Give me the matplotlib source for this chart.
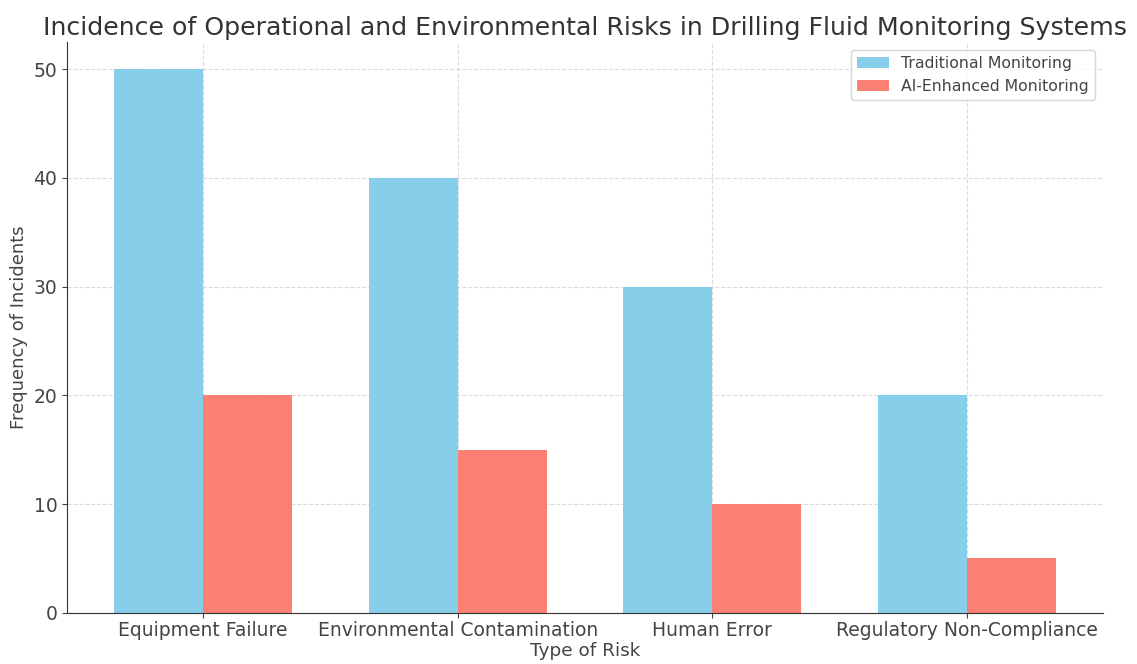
import matplotlib
matplotlib.use("Agg")
import matplotlib.pyplot as plt
import numpy as np

categories = ["Equipment Failure", "Environmental Contamination", "Human Error", "Regulatory Non-Compliance"]
traditional = [50, 40, 30, 20]
ai_enhanced = [20, 15, 10, 5]

plt.rcParams['font.family'] = ['DejaVu Sans']
txt = '#444444'
plt.rcParams['text.color'] = txt
plt.rcParams['axes.labelcolor'] = txt
plt.rcParams['xtick.color'] = txt
plt.rcParams['ytick.color'] = txt

fig, ax = plt.subplots(figsize=(11.37, 6.64), dpi=100)
fig.subplots_adjust(left=0.059, right=0.970, top=0.937, bottom=0.077)

x = np.arange(len(categories))
w = 0.35
ax.bar(x - w/2, traditional, w, color='skyblue', label='Traditional Monitoring', zorder=2)
ax.bar(x + w/2, ai_enhanced, w, color='salmon', label='AI-Enhanced Monitoring', zorder=2)

ax.set_xticks(x)
ax.set_xticklabels(categories, fontsize=13.5)
ax.tick_params(axis='y', labelsize=13.5)
ax.tick_params(axis='x', pad=2)
ax.set_xlabel('Type of Risk', fontsize=13.3, labelpad=2)
ax.set_ylabel('Frequency of Incidents', fontsize=13)
ax.set_title('Incidence of Operational and Environmental Risks in Drilling Fluid Monitoring Systems', fontsize=18.2, color='#333333', pad=5)
ax.grid(True, linestyle='--', color='#cccccc', alpha=0.7, zorder=0)
ax.set_axisbelow(True)
for s in ['top', 'right']:
    ax.spines[s].set_visible(False)
for s in ['left', 'bottom']:
    ax.spines[s].set_color('#333333')
ax.legend(fontsize=11.3, loc='upper right')

fig.savefig('out.png', dpi=100)
